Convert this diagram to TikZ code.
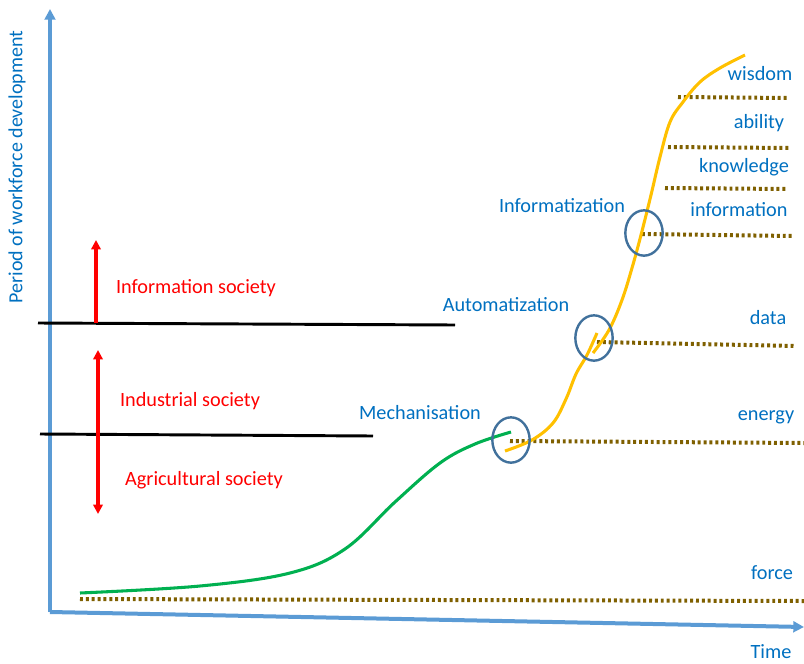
\documentclass[tikz,border=0pt]{standalone}
\usepackage{fontspec}
\setmainfont{Carlito}
\usetikzlibrary{arrows.meta,shapes.geometric}
\definecolor{axisblue}{HTML}{5B9BD5}
\definecolor{txtblue}{HTML}{0070C0}
\definecolor{ringblue}{HTML}{41719C}
\definecolor{dotbrown}{HTML}{7F6000}
\definecolor{curvegold}{HTML}{FFC000}
\definecolor{curvegreen}{HTML}{00B050}

\begin{document}
\begin{tikzpicture}[x=0.75pt,y=-0.75pt,>={Triangle[length=8pt,width=8pt]},
 ax/.style={draw=axisblue,line width=3pt},
 sep/.style={draw=black,line width=2.2pt},
 era/.style={draw=red,line width=2.4pt,>={Triangle[length=7pt,width=7pt]}},
 lvl/.style={draw=dotbrown,line width=3pt,dash pattern=on 2.2pt off 2.2pt},
 ring/.style={draw=ringblue,line width=1.8pt,ellipse,minimum width=28pt,minimum height=34pt,inner sep=0pt},
 rd/.style={text=red,font=\fontsize{15.2}{17}\selectfont},
 bl/.style={text=txtblue,font=\fontsize{15.2}{17}\selectfont}]
\useasboundingbox (0,0) rectangle (804,664);
% axes
\coordinate (O) at (50,612);
\coordinate (Ytop) at (50,9);
\coordinate (Xend) at (804,627);
\draw[ax,->] (O) -- (Ytop);
\draw[ax,->] (O) -- (Xend);
\node[rotate=90,text=txtblue,font=\fontsize{15}{17}\selectfont] (ylab) at (17,167) {Period of workforce development};
\node[bl,inner sep=1pt] (time) at (771,652) {Time};
% society borders
\coordinate (s1a) at (38,323);
\coordinate (s1b) at (455,325);
\coordinate (s2a) at (40,434);
\coordinate (s2b) at (373,436);
\draw[sep] (s1a) -- (s1b);
\draw[sep] (s2a) -- (s2b);
\coordinate (u1) at (96,323);
\coordinate (u2) at (96,240);
\coordinate (d1) at (98,350);
\coordinate (d2) at (98,514);
\draw[era,->] (u1) -- (u2);
\draw[era,<->] (d1) -- (d2);
\node[rd] (infs) at (196,288) {Information society};
\node[rd] (inds) at (190,401) {Industrial society};
\node[rd] (agrs) at (204,480) {Agricultural society};
% levels
\coordinate (f1) at (80,599);   \coordinate (f2) at (804,601);
\coordinate (e1) at (510,441);  \coordinate (e2) at (804,443);
\coordinate (da1) at (597,342); \coordinate (da2) at (796,346);
\coordinate (i1) at (642,234);  \coordinate (i2) at (792,236);
\coordinate (k1) at (665,188);  \coordinate (k2) at (786,189);
\coordinate (a1) at (668,147);  \coordinate (a2) at (789,148);
\coordinate (w1) at (678,97);   \coordinate (w2) at (788,98);
\foreach \p in {f,e,da,i,k,a,w}
  \draw[lvl] (\p1) -- (\p2);
\node[bl] (force) at (772,573) {force};
\node[bl] (energy) at (766,417) {energy};
\node[bl] (data) at (768,318) {data};
\node[bl] (info) at (739,210) {information};
\node[bl] (know) at (744,167) {knowledge};
\node[bl] (abil) at (759,123) {ability};
\node[bl] (wisd) at (760,74) {wisdom};
% growth curves
\draw[curvegreen,line width=2.3pt] plot[smooth,tension=0.6] coordinates
 {(80,593) (200,586) (290,573) (345,549) (395,502) (440,463) (475,444) (511,432)};
\draw[curvegold,line width=2.3pt] plot[smooth,tension=0.6] coordinates
 {(505,451) (532,440) (553,423) (566,399) (576,374) (587,355) (597,333)};
\draw[curvegold,line width=2.3pt] plot[smooth,tension=0.6] coordinates
 {(593,353) (609,330) (622,300) (632,268) (641,235) (651,195) (660,157) (670,122) (683,102) (700,82) (720,68) (745,55)};
% transitions
\node[ring] (mech) at (511,440) {};
\node[ring] (auto) at (594,338) {};
\node[ring] (infz) at (644,233) {};
\node[bl] (mechl) at (420,413) {Mechanisation};
\node[bl] (autol) at (506,305) {Automatization};
\node[bl] (infzl) at (562,206) {Informatization};
\end{tikzpicture}
\end{document}
